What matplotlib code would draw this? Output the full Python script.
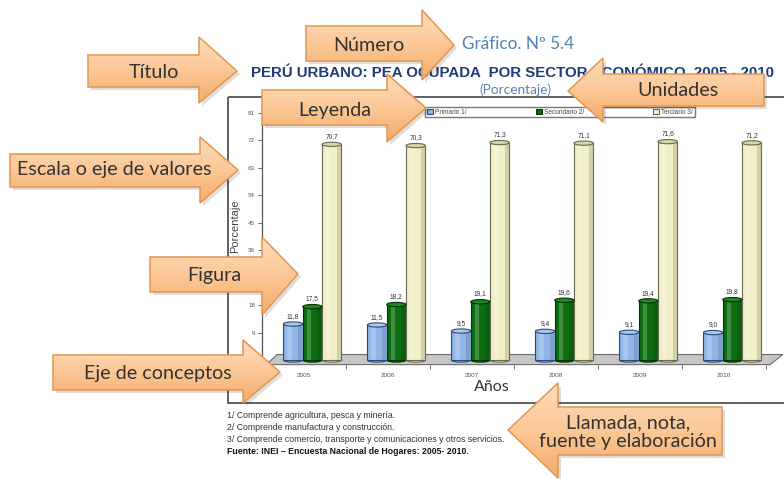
import matplotlib
matplotlib.use('Agg')
import matplotlib.pyplot as plt
import numpy as np
from matplotlib.patches import Polygon, Ellipse, Rectangle
from matplotlib.colors import LinearSegmentedColormap

# ---------------- data ----------------
years = ['2005', '2006', '2007', '2008', '2009', '2010']
primario = [11.8, 11.5, 9.5, 9.4, 9.1, 9.0]
secundario = [17.5, 18.2, 19.1, 19.6, 19.4, 19.8]
terciario = [70.7, 70.3, 71.3, 71.1, 71.6, 71.2]
series_names = ['Primario 1/', 'Secundario 2/', 'Terciario 3/']
yticks = [0, 9, 18, 27, 36, 45, 54, 63, 72, 81]

numero = 'Gráfico. Nº 5.4'
titulo = 'PERÚ URBANO: PEA OCUPADA  POR SECTOR ECONÓMICO, 2005 - 2010'
unidades = '(Porcentaje)'
notas = ['1/ Comprende agricultura, pesca y minería.',
         '2/ Comprende manufactura y construcción.',
         '3/ Comprende comercio, transporte y comunicaciones y otros servicios.']
fuente = 'Fuente: INEI – Encuesta Nacional de Hogares: 2005- 2010.'

# ---------------- figure ----------------
W, H = 784, 479
fig = plt.figure(figsize=(W / 100, H / 100), dpi=100)
fig.patch.set_facecolor('white')

ax = fig.add_axes([262 / W, 1 - 364.6 / H, 520.8 / W, 260.8 / H])
ax.set_xlim(-0.6, 5.6)
ax.set_ylim(-1.5, 84)
ax.patch.set_alpha(0)

x = np.arange(len(years))
bw = 0.23
face = ['#8fb6e6', '#0c6e10', '#f1efc6']
caps = ['#a9c8ee', '#1f8a22', '#d6d4a6']
edges = ['#2c4a78', '#043306', '#6a6a52']

# floor
floor = Polygon([(-0.55, -1.5), (5.45, -1.5), (5.6, 1.8), (-0.42, 1.8)], closed=True,
                fc='#c6c6c6', ec='#6b6b6b', lw=0.8, zorder=1, clip_on=False)
ax.add_patch(floor)

handles = []
for k, vals in enumerate([primario, secundario, terciario]):
    xs = x + (k - 1) * bw
    b = ax.bar(xs, vals, width=bw, color=face[k], edgecolor=edges[k], linewidth=0.8,
               zorder=3, label=series_names[k])
    handles.append(b)
    # cylinder shading
    ax.bar(xs - bw * 0.18, vals, width=bw * 0.22, color='white', alpha=0.22,
           linewidth=0, zorder=3.1)
    ax.bar(xs + bw * 0.36, vals, width=bw * 0.2, color='black', alpha=0.12,
           linewidth=0, zorder=3.1)
    for xi, v in zip(xs, vals):
        ax.add_patch(Ellipse((xi, 0), bw, 1.4, fc=face[k], ec=edges[k], lw=0.8, zorder=2.9))
        ax.add_patch(Ellipse((xi, v), bw, 1.4, fc=caps[k], ec=edges[k], lw=0.8, zorder=4))
        ax.text(xi, v + 1.4, f'{v:.1f}'.replace('.', ','), ha='center', va='bottom',
                fontsize=4.8, color='#333333', family='Liberation Sans', zorder=5)

for s in ['top', 'right', 'bottom']:
    ax.spines[s].set_visible(False)
ax.spines['left'].set_color('#555555')
ax.spines['left'].set_linewidth(0.9)
ax.set_yticks(yticks)
ax.set_yticklabels([str(t) for t in yticks], fontsize=4.5, color='#555555',
                   family='Liberation Sans')
ax.tick_params(axis='y', length=3, width=0.6, color='#555555', pad=2)
ax.set_xticks(x - 0.1)
ax.set_xticklabels(years, fontsize=4.6, color='#555555', family='Liberation Sans')
ax.tick_params(axis='x', which='major', length=0, pad=6)
ax.set_xticks(x + 0.4, minor=True)
ax.tick_params(axis='x', which='minor', length=3, width=0.6, color='#555555')

ax.legend(handles=handles, labels=series_names, loc='center',
          bbox_to_anchor=(425 / W, 1 - 119 / H, 270 / W, 14 / H),
          bbox_transform=fig.transFigure, mode='expand', ncol=3,
          prop={'family': 'Liberation Sans', 'size': 4.7},
          frameon=True, fancybox=False, edgecolor='#555555', borderaxespad=0,
          handlelength=0.9, handleheight=0.7, handletextpad=0.4, borderpad=0.3,
          labelcolor='#444444')

# ---------------- overlay (pixel coords) ----------------
ov = fig.add_axes([0, 0, 1, 1], zorder=10)
ov.set_xlim(0, W)
ov.set_ylim(H, 0)
ov.axis('off')
ov.patch.set_alpha(0)

ov.add_patch(Rectangle((228, 97), 570, 306, fill=False, ec='#555555', lw=1.3, zorder=2))

ov.text(518, 44, numero, ha='center', va='center', fontsize=12.3, color='#4f81bd', family='Lato')
ov.text(513, 72, titulo, ha='center', va='center', fontsize=10.8, color='#1f3c78',
        family='Liberation Sans', weight='bold')
ov.text(515, 90, unidades, ha='center', va='center', fontsize=9.8, color='#5d7fb5', family='Lato')
ov.text(235, 226, 'Porcentaje', ha='center', va='center', rotation=90, fontsize=8,
        color='#444444', family='Liberation Sans')
ov.text(492, 387, 'Años', ha='center', va='center', fontsize=11.5, color='#333333', family='Lato')

note_y = [415, 427, 440]
for yy, line in zip(note_y, notas):
    ov.text(227, yy, line, ha='left', va='center', fontsize=6.3, color='#333333',
            family='Liberation Sans')
ov.text(227, 452, fuente, ha='left', va='center', fontsize=6.3, color='#111111',
        family='Liberation Sans', weight='bold')

peach = LinearSegmentedColormap.from_list('peach', ['#fddcbd', '#fbc896', '#f5ab6a'])
grad = np.linspace(0, 1, 200).reshape(-1, 1)


def right_arrow(x0, x1, yt, yb, ht, hb, tip):
    return [(x0, yt), (x1, yt), (x1, ht), tip, (x1, hb), (x1, yb), (x0, yb)]


def left_arrow(x0, x1, yt, yb, ht, hb, tip):
    return [(x1, yt), (x0, yt), (x0, ht), tip, (x0, hb), (x0, yb), (x1, yb)]


def draw_arrow(pts, label, txy, fs=14.2):
    sh = Polygon([(a + 3, b + 3) for a, b in pts], closed=True, fc='black', alpha=0.13,
                 ec='none', zorder=20)
    ov.add_patch(sh)
    poly = Polygon(pts, closed=True, fc='none', ec='#e3964f', lw=1.1, zorder=22)
    ov.add_patch(poly)
    xs = [p[0] for p in pts]
    ys = [p[1] for p in pts]
    im = ov.imshow(grad, cmap=peach, extent=(min(xs), max(xs), max(ys), min(ys)),
                   origin='upper', aspect='auto', zorder=21, interpolation='bilinear')
    im.set_clip_path(poly)
    ov.text(txy[0], txy[1], label, ha='center', va='center', fontsize=fs,
            color='#333333', family='Lato', zorder=23, linespacing=1.1)


draw_arrow(right_arrow(306, 422, 26, 61, 10, 80, (454, 45)), 'Número', (369, 45))
draw_arrow(right_arrow(88, 199, 55, 87, 37, 103, (237, 71)), 'Título', (154, 72))
draw_arrow(right_arrow(262, 387, 90, 125, 74, 142, (426, 108)), 'Leyenda', (335, 110))
draw_arrow(left_arrow(603, 764, 74, 106, 58, 122, (568, 91)), 'Unidades', (678, 90))
draw_arrow(right_arrow(10, 200, 154, 187, 137, 203, (238, 170)), 'Escala o eje de valores', (114, 170))
draw_arrow(right_arrow(150, 262, 257, 292, 237, 315, (298, 274)), 'Figura', (214, 275))
draw_arrow(right_arrow(53, 243, 355, 390, 340, 403, (280, 372)), 'Eje de conceptos', (158, 373))
draw_arrow(left_arrow(558, 722, 407, 455, 383, 478, (508, 430)),
           'Llamada, nota,\nfuente y elaboración', (628, 432))

ov.set_xlim(0, W)
ov.set_ylim(H, 0)

fig.savefig('out.png', dpi=100, facecolor='white')
